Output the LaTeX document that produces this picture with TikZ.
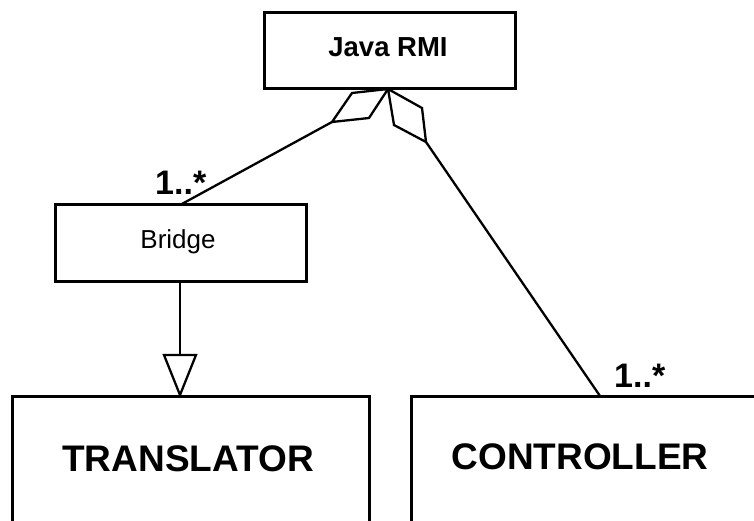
\documentclass[tikz,border=0pt]{standalone}
\usepackage{fontspec}
\setmainfont{Liberation Sans}
\begin{document}
\begin{tikzpicture}[x=1pt,y=-1pt,
  classbox/.style={draw=black,line width=3pt,rectangle,inner sep=0pt,fill=white},
  link/.style={draw=black,line width=2.3pt,line join=miter},
  smalltxt/.style={anchor=base,inner sep=0pt,font=\fontsize{26}{30}\selectfont},
  bigtxt/.style={anchor=base,inner sep=0pt,font=\fontsize{37}{41}\selectfont\bfseries},
  multtxt/.style={anchor=base west,inner sep=0pt,font=\fontsize{34}{38}\selectfont\bfseries}]
\useasboundingbox (0,0) rectangle (754,521);
\clip (0,0) rectangle (754,521);
\fill[white] (0,0) rectangle (754,521);

% class boxes
\node[classbox,minimum width=251pt,minimum height=76pt] (rmi) at (389.5,51) {};
\node[classbox,minimum width=251pt,minimum height=76pt] (bridge) at (180.5,243) {};
\node[classbox,minimum width=357pt,minimum height=200pt] (translator) at (190.5,496) {};
\node[classbox,minimum width=357pt,minimum height=200pt] (controller) at (589.5,496) {};

% class names
\node[smalltxt,font=\fontsize{27.5}{31}\selectfont\bfseries] (rmitxt) at (388,57) {Java RMI};
\node[smalltxt] (bridgetxt) at (178,248) {Bridge};
\node[bigtxt] (translatortxt) at (188,471) {TRANSLATOR};
\node[bigtxt] (controllertxt) at (580,469) {CONTROLLER};

% multiplicities
\node[multtxt] (multbridge) at (155,195) {1..*};
\node[multtxt] (multctrl) at (614,387) {1..*};

% aggregation diamonds at the Java RMI box
\coordinate (tip) at (388,89);
\coordinate (la) at (352,93);
\coordinate (lb) at (332,122);
\coordinate (lc) at (369,118);
\coordinate (ra) at (422,108);
\coordinate (rb) at (426,142);
\coordinate (rc) at (394,125);
\draw[link] (tip) -- (la) -- (lb) -- (lc) -- cycle;
\draw[link] (tip) -- (ra) -- (rb) -- (rc) -- cycle;

% associations
\coordinate (bridgetop) at (180,205);
\coordinate (ctrltop) at (600,396);
\draw[link] (lb) -- (bridgetop);
\draw[link] (rb) -- (ctrltop);

% generalization Bridge -> TRANSLATOR
\coordinate (bridgebot) at (180,281);
\coordinate (trib) at (180,355);
\coordinate (tril) at (164,355);
\coordinate (trir) at (196,355);
\coordinate (triapex) at (180,395);
\draw[link] (bridgebot) -- (trib);
\draw[link] (tril) -- (trir) -- (triapex) -- cycle;
\end{tikzpicture}
\end{document}
